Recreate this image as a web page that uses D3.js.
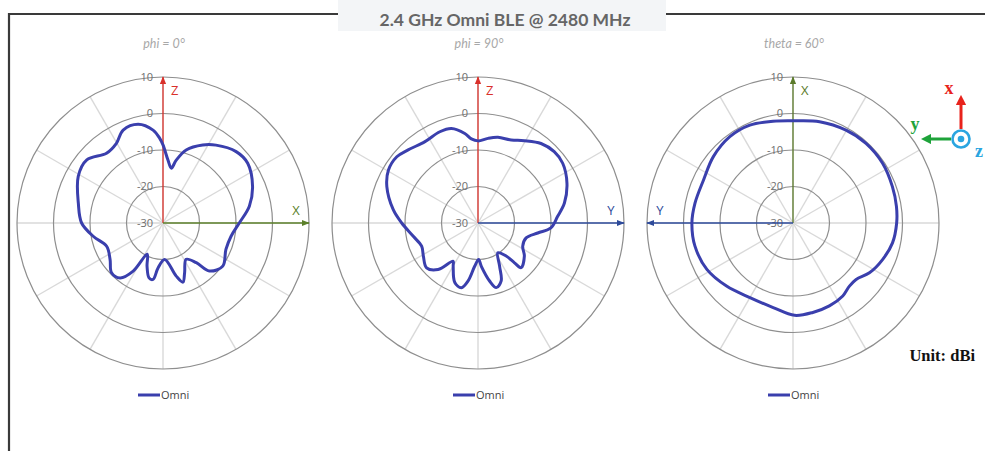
<!DOCTYPE html>
<html><head><meta charset="utf-8">
<script src="https://cdn.jsdelivr.net/npm/d3@7"></script>
<style>body{margin:0;background:#fff;}svg{display:block;}</style>
</head><body>
<svg id="c" width="985" height="451"></svg>
<script>
// ---- data ----
const chartTitles = ["phi = 0°", "phi = 90°", "theta = 60°"];
const seriesName = "Omni";
const ringTicks = [10, 0, -10, -20, -30];
const spokeAngles = [0,30,60,90,120,150,180,210,240,270,300,330];

const phi0Angles = [0,4.5,8.6,11.9,17.6,27,34.2,45.7,54.8,67.8,79,90,101,112.8,125.8,136,140,147.5,156.6,161.4,166,177.4,186.3,190,194.3,200.3,206.8,211.8,218,226,235.5,247.6,259,270,283,298.8,309.6,321,329.7,336.8,345.9,353.9,357.8];
const phi0Gain   = [-8.6,-12.7,-14.8,-12.4,-9.0,-6.0,-4.2,-2.0,-1.6,-3.5,-5.9,-9.1,-11,-11.3,-9.8,-11.7,-15.8,-18.2,-15.1,-12.9,-15,-20,-17.6,-14.3,-14.5,-17.4,-20.4,-14.5,-10.9,-10.4,-12.4,-13.3,-10.6,-7.7,-6.2,-3.5,-2.9,-5.4,-4.7,-2.3,-2.1,-4.4,-6.8];

const phi90Angles = [0,6.7,13.1,21.8,29.4,38.4,46.9,54.8,65.9,77,85.2,93.9,99.5,107.2,117.4,125.5,136,137.5,139.6,146.3,153.4,158.2,164.2,168.7,175.6,179,184.4,189.7,194.4,201.3,210,213.1,220.6,228.9,238.8,247.6,258.4,270,278.9,291.8,300.6,309.2,316.3,326.9,337.3,344.3,351.6,355.5];
const phi90Gain   = [-7.5,-6.65,-5.9,-5.5,-4.1,-2.2,-1.4,-1.6,-3.3,-5.7,-8.1,-10,-13.4,-16.2,-16.2,-14.4,-13,-15.2,-18.1,-20.2,-16.8,-12.9,-11.6,-13.8,-18.1,-20,-18.1,-13.9,-11.7,-12.5,-16.4,-17.5,-13.2,-11.3,-12.5,-13.3,-11.9,-9.1,-6.5,-3.1,-1.5,-1.3,-2.3,-3.4,-2.9,-3.1,-5.2,-6.9];

const theta60Angles = [0,14.7,29.7,42.5,56.3,69.9,80.9,90,101.3,112.2,123.1,131.8,138.2,145.7,156.3,167.5,179,193.2,210,226.5,241.7,256.7,270,281.5,295.7,309.8,323.8,336.2,348.9];
const theta60Gain   = [-2.0,-1.3,-0.7,-0.4,-0.5,-1.0,-1.3,-1.6,-2.2,-3.5,-5.0,-6.8,-6.8,-5.8,-5.2,-4.9,-4.7,-6.2,-6.4,-4.9,-3.2,-2.4,-2.3,-2.6,-2.8,-1.6,-0.7,-0.7,-1.6];

const axesLabels = [
  {up:"Z", side:"X", sideDir: 1, upColor:"#d9302a", sideColor:"#5b7f2a"},
  {up:"Z", side:"Y", sideDir: 1, upColor:"#d9302a", sideColor:"#2d4a9a"},
  {up:"X", side:"Y", sideDir:-1, upColor:"#5b7a2a", sideColor:"#2d4a9a"}
];
const patterns = [[phi0Angles,phi0Gain],[phi90Angles,phi90Gain],[theta60Angles,theta60Gain]];

// ---- drawing ----
const svg = d3.select("#c");
const centersX = [163, 478, 793];
const cy = 223;
const R = 146;
const r = d3.scaleLinear().domain([-30, 10]).range([0, R]);

// frame
svg.append("path").attr("d", "M9,451 L9,14 L340,14 M666,14 L985,14")
  .attr("fill","none").attr("stroke","#3a3a3a").attr("stroke-width",2.2);
svg.append("rect").attr("x",338).attr("y",0).attr("width",328).attr("height",31).attr("fill","#f3f5f7");
svg.append("text").attr("x",505).attr("y",26).attr("text-anchor","middle")
  .attr("font-family","Lato, 'Open Sans', sans-serif").attr("font-weight","bold")
  .attr("font-size",17.5).attr("fill","#666")
  .text("2.4 GHz Omni BLE @ 2480 MHz");

const defs = svg.append("defs");
function marker(id, color){
  defs.append("marker").attr("id",id).attr("viewBox","0 0 10 10").attr("refX",9).attr("refY",5)
    .attr("markerWidth",6).attr("markerHeight",6).attr("orient","auto")
    .append("path").attr("d","M0,1 L10,5 L0,9 Z").attr("fill",color);
}

patterns.forEach((p, i) => {
  const cx = centersX[i];
  const g = svg.append("g").attr("transform", `translate(${cx},${cy})`);
  // subtitle
  svg.append("text").attr("x",cx+1).attr("y",48).attr("text-anchor","middle")
    .attr("font-family","Lato, 'Open Sans', sans-serif").attr("font-style","italic")
    .attr("font-size",12.5).attr("fill","#a8a8a8").text(chartTitles[i]);
  // spokes
  g.selectAll("line.spoke").data(spokeAngles).join("line").attr("class","spoke")
    .attr("x1",0).attr("y1",0)
    .attr("x2",d=>R*Math.sin(d*Math.PI/180)).attr("y2",d=>-R*Math.cos(d*Math.PI/180))
    .attr("stroke","#d9d9d9").attr("stroke-width",1.4);
  // rings
  g.selectAll("circle.ring").data(ringTicks.filter(t=>t>-30)).join("circle").attr("class","ring")
    .attr("r",d=>r(d)).attr("fill","none").attr("stroke","#8e8e8e").attr("stroke-width",1.2);
  // tick labels
  g.selectAll("text.tick").data(ringTicks).join("text").attr("class","tick")
    .attr("x",-10).attr("y",d=>-r(d)).attr("dy","0.35em").attr("text-anchor","end")
    .attr("font-family","'Open Sans', 'DejaVu Sans', sans-serif").attr("font-size",11)
    .attr("fill","#6e6e6e").text(d=>d);
  // axis arrows
  const a = axesLabels[i];
  marker("mu"+i, a.upColor); marker("ms"+i, a.sideColor);
  g.append("line").attr("x1",0).attr("y1",0).attr("x2",0).attr("y2",-R)
    .attr("stroke",a.upColor).attr("stroke-width",1.3).attr("marker-end",`url(#mu${i})`);
  g.append("line").attr("x1",0).attr("y1",0).attr("x2",a.sideDir*R).attr("y2",0)
    .attr("stroke",a.sideColor).attr("stroke-width",1.3).attr("marker-end",`url(#ms${i})`);
  g.append("text").attr("x",8).attr("y",-128).attr("font-family","'Open Sans', sans-serif")
    .attr("font-size",13).attr("fill",a.upColor).text(a.up);
  g.append("text").attr("x",a.sideDir*133).attr("y",-8).attr("text-anchor","middle")
    .attr("font-family","'Open Sans', sans-serif")
    .attr("font-size",13).attr("fill",a.sideColor).text(a.side);
  // pattern
  const pts = p[0].map((ang, k) => [ang*Math.PI/180, r(p[1][k])]);
  const line = d3.lineRadial().angle(d=>d[0]).radius(d=>d[1]).curve(d3.curveCatmullRomClosed.alpha(0.5));
  g.append("path").attr("d", line(pts)).attr("fill","none").attr("stroke","#3a3fad").attr("stroke-width",3);
  // legend
  const lx = cx - 25, ly = 395;
  svg.append("line").attr("x1",lx).attr("x2",lx+22).attr("y1",ly).attr("y2",ly)
    .attr("stroke","#3a3fad").attr("stroke-width",3);
  svg.append("text").attr("x",lx+23).attr("y",ly).attr("dy","0.35em")
    .attr("font-family","'Open Sans', sans-serif").attr("font-size",11).attr("fill","#444").text(seriesName);
});

// coordinate icon
const ic = svg.append("g");
defs.append("marker").attr("id","ir").attr("viewBox","0 0 10 10").attr("refX",2).attr("refY",5)
  .attr("markerWidth",3.4).attr("markerHeight",3.4).attr("orient","auto")
  .append("path").attr("d","M0,0 L10,5 L0,10 Z").attr("fill","#e8231c");
defs.append("marker").attr("id","ig").attr("viewBox","0 0 10 10").attr("refX",2).attr("refY",5)
  .attr("markerWidth",3.4).attr("markerHeight",3.4).attr("orient","auto")
  .append("path").attr("d","M0,0 L10,5 L0,10 Z").attr("fill","#1ea33a");
ic.append("line").attr("x1",961).attr("y1",129).attr("x2",961).attr("y2",103)
  .attr("stroke","#e8231c").attr("stroke-width",3).attr("marker-end","url(#ir)");
ic.append("line").attr("x1",951).attr("y1",139).attr("x2",929).attr("y2",139)
  .attr("stroke","#1ea33a").attr("stroke-width",3).attr("marker-end","url(#ig)");
ic.append("circle").attr("cx",961).attr("cy",139).attr("r",8.5).attr("fill","#fff")
  .attr("stroke","#2aa5e0").attr("stroke-width",2.6);
ic.append("circle").attr("cx",961).attr("cy",139).attr("r",3.3).attr("fill","#2aa5e0");
ic.append("text").attr("x",949).attr("y",94).attr("text-anchor","middle")
  .attr("font-family","'Liberation Serif', serif").attr("font-weight","bold").attr("font-size",18)
  .attr("fill","#e8231c").text("x");
ic.append("text").attr("x",915).attr("y",130).attr("text-anchor","middle")
  .attr("font-family","'Liberation Serif', serif").attr("font-weight","bold").attr("font-size",18)
  .attr("fill","#1ea33a").text("y");
ic.append("text").attr("x",979).attr("y",157).attr("text-anchor","middle")
  .attr("font-family","'Liberation Serif', serif").attr("font-weight","bold").attr("font-size",18)
  .attr("fill","#2aa5e0").text("z");

svg.append("text").attr("x",975).attr("y",361).attr("text-anchor","end")
  .attr("font-family","'Liberation Serif', 'Times New Roman', serif").attr("font-weight","bold")
  .attr("font-size",16.5).attr("fill","#111").text("Unit: dBi");
</script>
</body></html>
